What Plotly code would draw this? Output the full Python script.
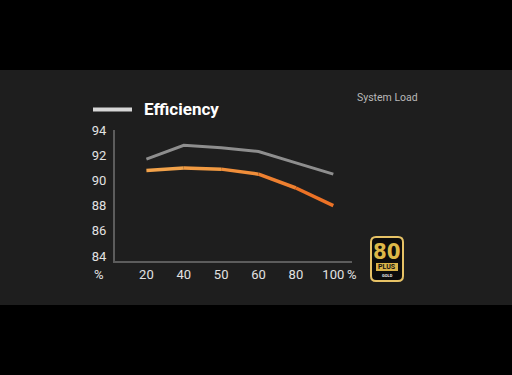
import plotly.graph_objects as go

# ---- data ----
loads = ["20", "40", "50", "60", "80", "100"]
eff_230v = [91.7, 92.8, 92.6, 92.3, 91.4, 90.5]
eff_115v = [90.8, 91.0, 90.9, 90.5, 89.4, 88.0]
y_ticks = [84, 86, 88, 90, 92, 94]
series_names = ["230V", "115V"]

W, H = 512, 375
def X(px): return px / W
def Y(py): return 1 - py / H

fig = go.Figure()

# orange line with a subtle gradient (segment colours)
orange_cols = ["#f2a24a", "#f19a42", "#f08e3a", "#ee8030", "#ec7226"]
fig.add_trace(go.Scatter(x=loads, y=eff_230v, mode="lines",
                         line=dict(color="#8e8e8e", width=3), hoverinfo="skip",
                         showlegend=False))
for i in range(len(loads) - 1):
    fig.add_trace(go.Scatter(x=loads[i:i + 2], y=eff_115v[i:i + 2], mode="lines",
                             line=dict(color=orange_cols[i], width=3.5),
                             hoverinfo="skip", showlegend=False))

font_main = "Roboto, 'Open Sans', sans-serif"

fig.update_layout(
    width=W, height=H,
    margin=dict(l=0, r=0, t=0, b=0, autoexpand=False),
    paper_bgcolor="#000000",
    plot_bgcolor="rgba(0,0,0,0)",
    font=dict(family=font_main, color="#dcdcdc"),
    xaxis=dict(domain=[X(115), X(352)], type="category", range=[-0.84, 5.5],
               showgrid=False, zeroline=False, showline=True, automargin=False,
               linecolor="#5c5c5c", linewidth=2, ticks="",
               tickfont=dict(size=13, color="#e2e2e2"), ticklabelstandoff=0),
    yaxis=dict(domain=[Y(261), Y(129.5)], range=[83.6, 94.05], automargin=False,
               tickvals=y_ticks, showgrid=False, zeroline=False, showline=True,
               linecolor="#5c5c5c", linewidth=2, ticks="",
               tickfont=dict(size=13, color="#e2e2e2"), ticklabelstandoff=4),
)

shapes = []
# dark panel
shapes.append(dict(type="rect", xref="paper", yref="paper", x0=0, x1=1,
                   y0=Y(305), y1=Y(70), fillcolor="#1e1e1e", line=dict(width=0),
                   layer="below"))
# legend icon bar
shapes.append(dict(type="line", xref="paper", yref="paper", x0=X(93), x1=X(132),
                   y0=Y(109.5), y1=Y(109.5), line=dict(color="#d6d6d6", width=4)))

# 80 PLUS badge (rounded rectangle)
def rrect(x0, y0, x1, y1, r):
    return (f"M {X(x0+r)},{Y(y0)} L {X(x1-r)},{Y(y0)} Q {X(x1)},{Y(y0)} {X(x1)},{Y(y0+r)} "
            f"L {X(x1)},{Y(y1-r)} Q {X(x1)},{Y(y1)} {X(x1-r)},{Y(y1)} "
            f"L {X(x0+r)},{Y(y1)} Q {X(x0)},{Y(y1)} {X(x0)},{Y(y1-r)} "
            f"L {X(x0)},{Y(y0+r)} Q {X(x0)},{Y(y0)} {X(x0+r)},{Y(y0)} Z")
shapes.append(dict(type="path", xref="paper", yref="paper", path=rrect(371, 237, 403, 281, 5),
                   fillcolor="#0c0c0c", line=dict(color="#e6c266", width=2)))
shapes.append(dict(type="rect", xref="paper", yref="paper", x0=X(376), x1=X(398),
                   y0=Y(271), y1=Y(263), fillcolor="#d9b348", line=dict(width=0)))
fig.update_layout(shapes=shapes)

ann = []
ann.append(dict(xref="paper", yref="paper", x=X(142), y=Y(109), text="<b>Efficiency</b>",
                showarrow=False, xanchor="left", yanchor="middle",
                font=dict(size=17, color="#ffffff", family=font_main)))
ann.append(dict(xref="paper", yref="paper", x=X(355), y=Y(98), text="System Load",
                showarrow=False, xanchor="left", yanchor="middle",
                font=dict(size=10.5, color="#b8b8b8", family=font_main)))
ann.append(dict(xref="paper", yref="paper", x=X(99), y=Y(274), text="%",
                showarrow=False, xanchor="center", yanchor="middle",
                font=dict(size=13, color="#e2e2e2")))
ann.append(dict(xref="paper", yref="paper", x=X(352), y=Y(274), text="%",
                showarrow=False, xanchor="center", yanchor="middle",
                font=dict(size=13, color="#e2e2e2")))
# series end labels
for name, vals in zip(series_names, [eff_230v, eff_115v]):
    ann.append(dict(x=loads[-1], y=vals[-1], xref="x", yref="y", text=name,
                    showarrow=False, xanchor="left", yanchor="middle", xshift=4,
                    font=dict(size=11, color="#d4d4d4")))
# badge text
ann.append(dict(xref="paper", yref="paper", x=X(387), y=Y(251), text="<b>80</b>",
                showarrow=False, xanchor="center", yanchor="middle",
                font=dict(size=22, color="#dcb848", family="'Liberation Sans Narrow', 'DejaVu Sans Condensed', sans-serif")))
ann.append(dict(xref="paper", yref="paper", x=X(387), y=Y(267), text="<b>PLUS</b>",
                showarrow=False, xanchor="center", yanchor="middle",
                font=dict(size=7, color="#111111")))
ann.append(dict(xref="paper", yref="paper", x=X(387), y=Y(275.5), text="<b>GOLD</b>",
                showarrow=False, xanchor="center", yanchor="middle",
                font=dict(size=4, color="#e8e8e8")))
fig.update_layout(annotations=ann)

fig.write_html("out.html", config={"displayModeBar": False},
               post_script="document.body.style.margin='0';document.body.style.padding='0';")
